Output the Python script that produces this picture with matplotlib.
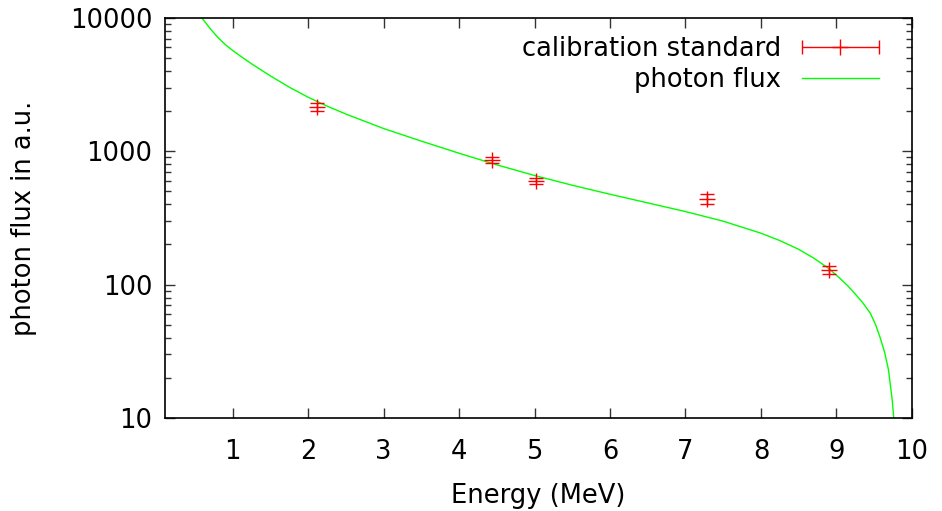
import numpy as np
import matplotlib
matplotlib.use("Agg")
import matplotlib.pyplot as plt
from matplotlib.legend_handler import HandlerErrorbar
from matplotlib.ticker import LogLocator, FixedLocator, NullFormatter

# calibration points (energy in MeV, flux in a.u., error)
cal_energy = [2.11, 4.43, 5.02, 7.28, 8.90]
cal_flux = [2150, 860, 600, 440, 129]
cal_err = [150, 50, 35, 35, 9]

# photon flux curve
flux_energy = [0.59, 0.7, 0.8, 0.9, 1.0, 1.1, 1.25, 1.5, 1.75, 2.0, 2.25, 2.5, 3.0, 3.5,
               4.0, 4.5, 5.0, 5.5, 6.0, 6.5, 7.0, 7.5, 8.0, 8.25, 8.5, 8.7, 8.9,
               9.05, 9.15, 9.25, 9.35, 9.45, 9.52, 9.58, 9.64, 9.69, 9.74, 9.76]
flux_val = [10000, 8320, 7160, 6310, 5690, 5180, 4520, 3670, 3020, 2540, 2180, 1900, 1480,
            1191, 966, 791, 658, 556, 476, 410, 353, 299, 243, 214, 184, 158, 132,
            111, 98, 85, 73, 61, 50, 40, 31, 23, 13.6, 10]

x_ticks = [1, 2, 3, 4, 5, 6, 7, 8, 9, 10]
y_ticks = [10, 100, 1000, 10000]

plt.rcParams['font.family'] = ['DejaVu Sans']
fs = 18.5

fig = plt.figure(figsize=(9.42, 5.11), dpi=100)
ax = fig.add_axes([0.175, 0.182, 0.793, 0.783])

ax.plot(flux_energy, flux_val, color='#00ff00', lw=1.0, label='photon flux', zorder=2)
ax.errorbar(cal_energy, cal_flux, yerr=cal_err, fmt='+', color='#ff0000',
            ms=11, mew=1.0, elinewidth=1.0, capsize=5, capthick=1.0, zorder=3)

# legend proxy drawn like gnuplot (horizontal bar with caps)
proxy = ax.errorbar([np.nan], [np.nan], xerr=[1], fmt='+', color='#ff0000',
                    ms=11, mew=1.0, elinewidth=1.0, capsize=5, capthick=1.0,
                    label='calibration standard')

ax.set_yscale('log')
ax.set_xlim(0.1, 10)
ax.set_ylim(10, 10000)
ax.xaxis.set_major_locator(FixedLocator(x_ticks))
ax.yaxis.set_major_locator(FixedLocator(y_ticks))
ax.yaxis.set_major_formatter(plt.FuncFormatter(lambda v, p: '%d' % v))
ax.yaxis.set_minor_locator(LogLocator(base=10, subs=np.arange(2, 10)))
ax.yaxis.set_minor_formatter(NullFormatter())

ax.tick_params(which='both', direction='in', top=True, right=True, labelsize=fs,
               width=1.0, color='#333333')
ax.tick_params(which='major', length=7.5)
ax.tick_params(which='minor', length=4)
ax.tick_params(axis='x', which='major', pad=15)
ax.tick_params(axis='y', which='major', pad=9)
for s in ax.spines.values():
    s.set_linewidth(1.2)

ax.set_xlabel('Energy (MeV)', fontsize=fs, labelpad=13)
ax.set_ylabel('photon flux in a.u.', fontsize=fs, labelpad=24)

handles = [proxy, ax.lines[0]]
labels = ['calibration standard', 'photon flux']
leg = ax.legend(handles, labels, loc='upper right', bbox_to_anchor=(0.98, 1.0),
                fontsize=fs, frameon=False,
                markerfirst=False, handlelength=3.0, handletextpad=0.8,
                labelspacing=0.2, borderaxespad=0.3, numpoints=1,
                handler_map={type(proxy): HandlerErrorbar(xerr_size=1.5)})

fig.savefig('out.png', dpi=100)
